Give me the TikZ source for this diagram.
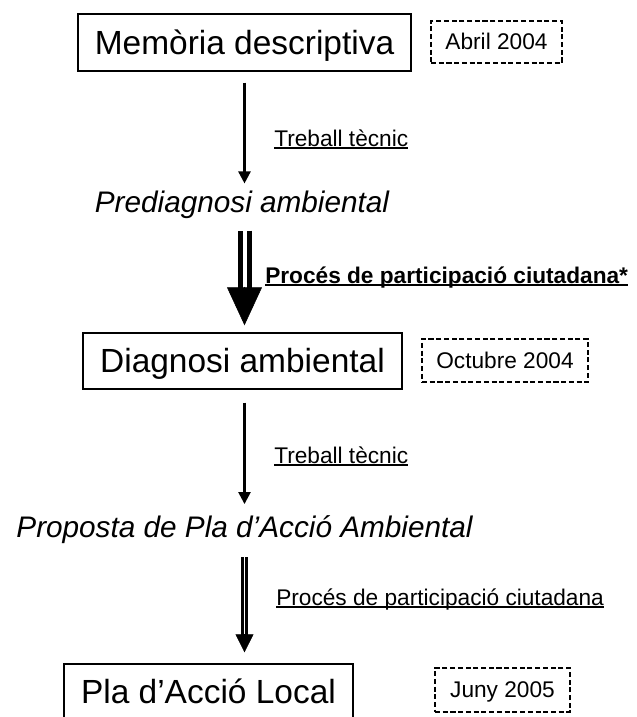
\documentclass[tikz,border=0pt]{standalone}
\usepackage{fontspec}
\setmainfont{Liberation Sans}
\usetikzlibrary{arrows.meta}

\newcommand{\subratlla}[2][0.07em]{\setbox0\hbox{#2}\rlap{\rule[-0.13em]{\wd0}{#1}}\box0}

\tikzset{
  caixa/.style={draw, line width=1.1pt, inner sep=0pt, text height=22.7pt, text depth=5.3pt, font=\fontsize{25.1}{30}\selectfont},
  data/.style={draw, dash pattern=on 3.8pt off 2pt, line width=1.5pt, inner sep=0pt, text height=15.4pt, text depth=3.6pt, font=\fontsize{17}{20}\selectfont},
  fase/.style={inner sep=0pt, anchor=base, text height=20.2pt, text depth=4.7pt, font=\fontsize{22.3}{26}\selectfont\itshape},
  etiqueta/.style={inner sep=0pt, anchor=base west, font=\fontsize{17}{20}\selectfont},
  fletxa/.style={-{Triangle[width=9pt,length=9pt]}, line width=1.8pt},
  doblegran/.style={double, line width=3.75pt, double distance=3pt},
  doblepetita/.style={double, line width=2.25pt, double distance=1.1pt},
}

\begin{document}
\begin{tikzpicture}[x=0.75pt,y=-0.75pt]
        \useasboundingbox (0,0) rectangle (636,717);

        % fases
        \node[caixa, minimum width=249.75pt, minimum height=42.75pt] (memoria) at (244.5,42.5) {Memòria descriptiva};
        \node[data, minimum width=98.25pt, minimum height=31.5pt] (abril) at (496.5,42) {Abril 2004};
        \node[fase] (prediag) at (242,212) {Prediagnosi ambiental};
        \node[caixa, minimum width=239.25pt, minimum height=42pt] (diag) at (242.5,361) {Diagnosi ambiental};
        \node[data, minimum width=124.5pt, minimum height=32.25pt] (octubre) at (505,360.5) {Octubre 2004};
        \node[fase] (proposta) at (244.5,537) {Proposta de Pla d’Acció Ambiental};
        \node[caixa, minimum width=216.75pt, minimum height=42pt] (local) at (208.5,692) {Pla d’Acció Local};
        \node[data, minimum width=101.25pt, minimum height=33pt] (juny) at (502.5,690) {Juny 2005};

        % fletxes
        \draw[fletxa, shorten <=8.25pt, shorten >=1pt] (memoria.south) -- (memoria.south |- prediag.north);
        \draw[doblegran, shorten <=9pt, shorten >=32pt] (prediag.south -| memoria.south) -- (memoria.south |- diag.north);
        \draw[-{Triangle[width=26.25pt,length=28.5pt]}, line width=0.4pt, shorten <=51pt, shorten >=5.25pt] (prediag.south -| memoria.south) -- (memoria.south |- diag.north);
        \draw[fletxa, shorten <=9.75pt, shorten >=4.3pt] (diag.south -| memoria.south) -- (memoria.south |- proposta.north);
        \draw[doblepetita, shorten <=10.3pt, shorten >=21pt] (proposta.south -| memoria.south) -- (memoria.south |- local.north);
        \draw[-{Triangle[width=13.5pt,length=13.5pt]}, line width=0.4pt, shorten <=68pt, shorten >=8.25pt] (proposta.south -| memoria.south) -- (memoria.south |- local.north);

        % etiquetes
        \node[etiqueta] (tecnic1) at (274,146) {\subratlla{Treball tècnic}};
        \node[etiqueta, font=\fontsize{17}{20}\selectfont\bfseries] (particip1) at (265,283) {\subratlla[0.09em]{Procés de participació ciutadana*}};
        \node[etiqueta] (tecnic2) at (274,463) {\subratlla{Treball tècnic}};
        \node[etiqueta] (particip2) at (276,605) {\subratlla{Procés de participació ciutadana}};
\end{tikzpicture}
\end{document}
